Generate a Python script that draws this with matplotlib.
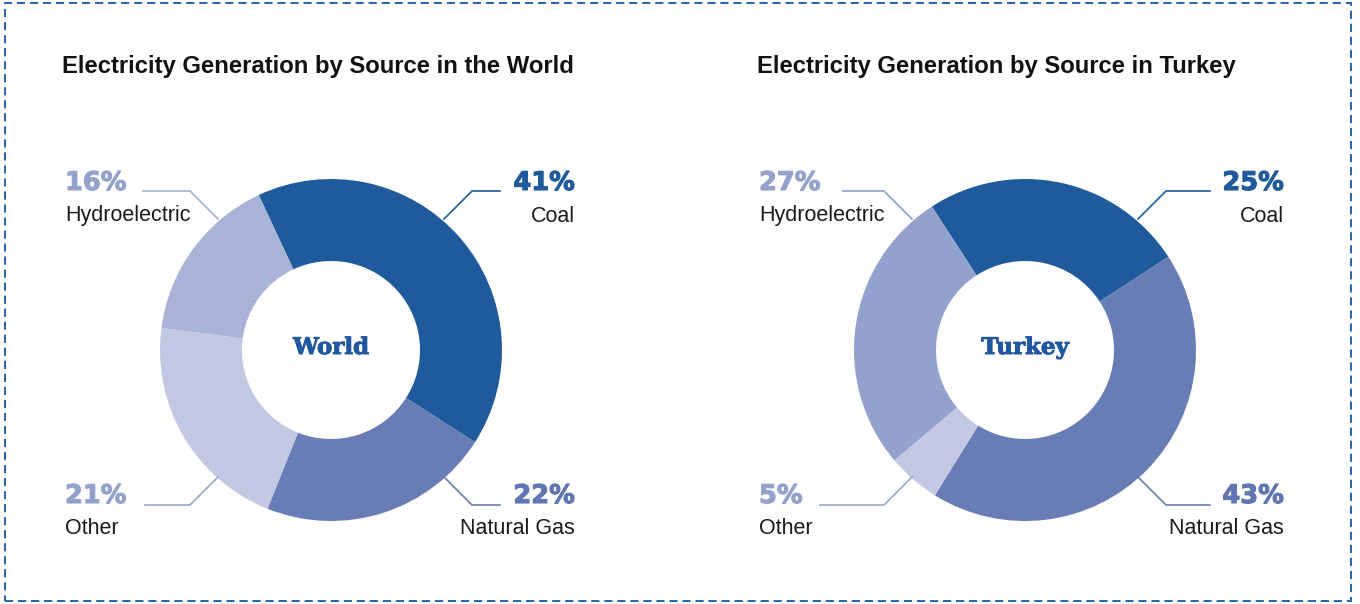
import matplotlib.pyplot as plt
import matplotlib.patheffects as pe
from matplotlib.patches import Rectangle

# electricity generation shares (%), clockwise from the top
sources = ["Coal", "Natural Gas", "Other", "Hydroelectric"]
world_share = [41, 22, 21, 16]
turkey_share = [25, 43, 5, 27]

titles = ["Electricity Generation by Source in the World",
          "Electricity Generation by Source in Turkey"]
centre_names = ["World", "Turkey"]

W, H = 1360, 604
coal_c = "#1F5A9C"
gas_c = "#687DB5"
other_c = "#C3C8E2"
hydro_c = ["#A9B3D5", "#93A2CC"]
light_txt = "#93A2CD"

fig = plt.figure(figsize=(W / 100, H / 100), dpi=100)
ax = fig.add_axes([0, 0, 1, 1])
ax.set_xlim(0, W)
ax.set_ylim(0, H)
ax.set_aspect("equal")
ax.axis("off")

def Y(y):
    return H - y

# dashed frame
ax.add_patch(Rectangle((5, Y(601)), 1346, 598, fill=False, ec="#2464AA",
                       lw=1.4, ls=(0, (4.2, 2.5))))

panels = [
    dict(data=world_share, cx=331, cy=350, start=115, title_x=62,
         left_x=65, right_x=575, left_end=[143, 145], right_end=500),
    dict(data=turkey_share, cx=1025, cy=350, start=123, title_x=757,
         left_x=759, right_x=1284, left_end=[843, 820], right_end=1210),
]

for i, p in enumerate(panels):
    cx, cy = p["cx"], p["cy"]
    cols = [coal_c, gas_c, other_c, hydro_c[i]]
    ax.pie(p["data"], colors=cols, startangle=p["start"], counterclock=False,
           center=(cx, Y(cy)), radius=171, frame=True,
           wedgeprops=dict(width=171 - 89, linewidth=0))

    ax.text(p["title_x"], Y(67), titles[i], fontsize=17.2, fontweight="bold",
            family="Liberation Sans", color="#111111", va="center", ha="left")
    ax.text(cx, Y(348), centre_names[i], fontsize=16.5, fontweight="bold",
            family="DejaVu Serif", color="#1F57A0", ha="center", va="center",
            path_effects=[pe.withStroke(linewidth=0.7, foreground="#1F57A0")])

    # label spec: (index, side, row)
    labels = [(0, "right", "top"), (1, "right", "bottom"),
              (2, "left", "bottom"), (3, "left", "top")]
    pct_cols = [coal_c, "#5F76B2", light_txt, light_txt]
    line_cols = [coal_c, gas_c, "#97A6D0", "#A4B0D6" if i == 0 else "#8E9ECB"]
    for k, side, row in labels:
        ly = 191 if row == "top" else 505
        sy = 219 if row == "top" else 477
        sgn = 1 if side == "right" else -1
        sx = cx + sgn * 113
        kx = sx + sgn * abs(ly - sy)
        ex = p["right_end"] if side == "right" else p["left_end"][0 if row == "top" else 1]
        ax.plot([sx, kx, ex], [Y(sy), Y(ly), Y(ly)], color=line_cols[k],
                lw=1.2, solid_joinstyle="miter")
        tx = p["right_x"] if side == "right" else p["left_x"]
        ha = "right" if side == "right" else "left"
        py = 183 if row == "top" else 496
        ax.text(tx, Y(py), f"{p['data'][k]}%", fontsize=18.5, fontweight="bold",
                family="DejaVu Sans", color=pct_cols[k], ha=ha, va="center",
                path_effects=[pe.withStroke(linewidth=0.8, foreground=pct_cols[k])])
        ax.text(tx, Y(py + 33), sources[k], fontsize=15.5, family="Liberation Sans",
                color="#1A1A1A", ha=ha, va="center")

ax.set_xlim(0, W)
ax.set_ylim(0, H)
fig.savefig("out.png", dpi=100, facecolor="white")
